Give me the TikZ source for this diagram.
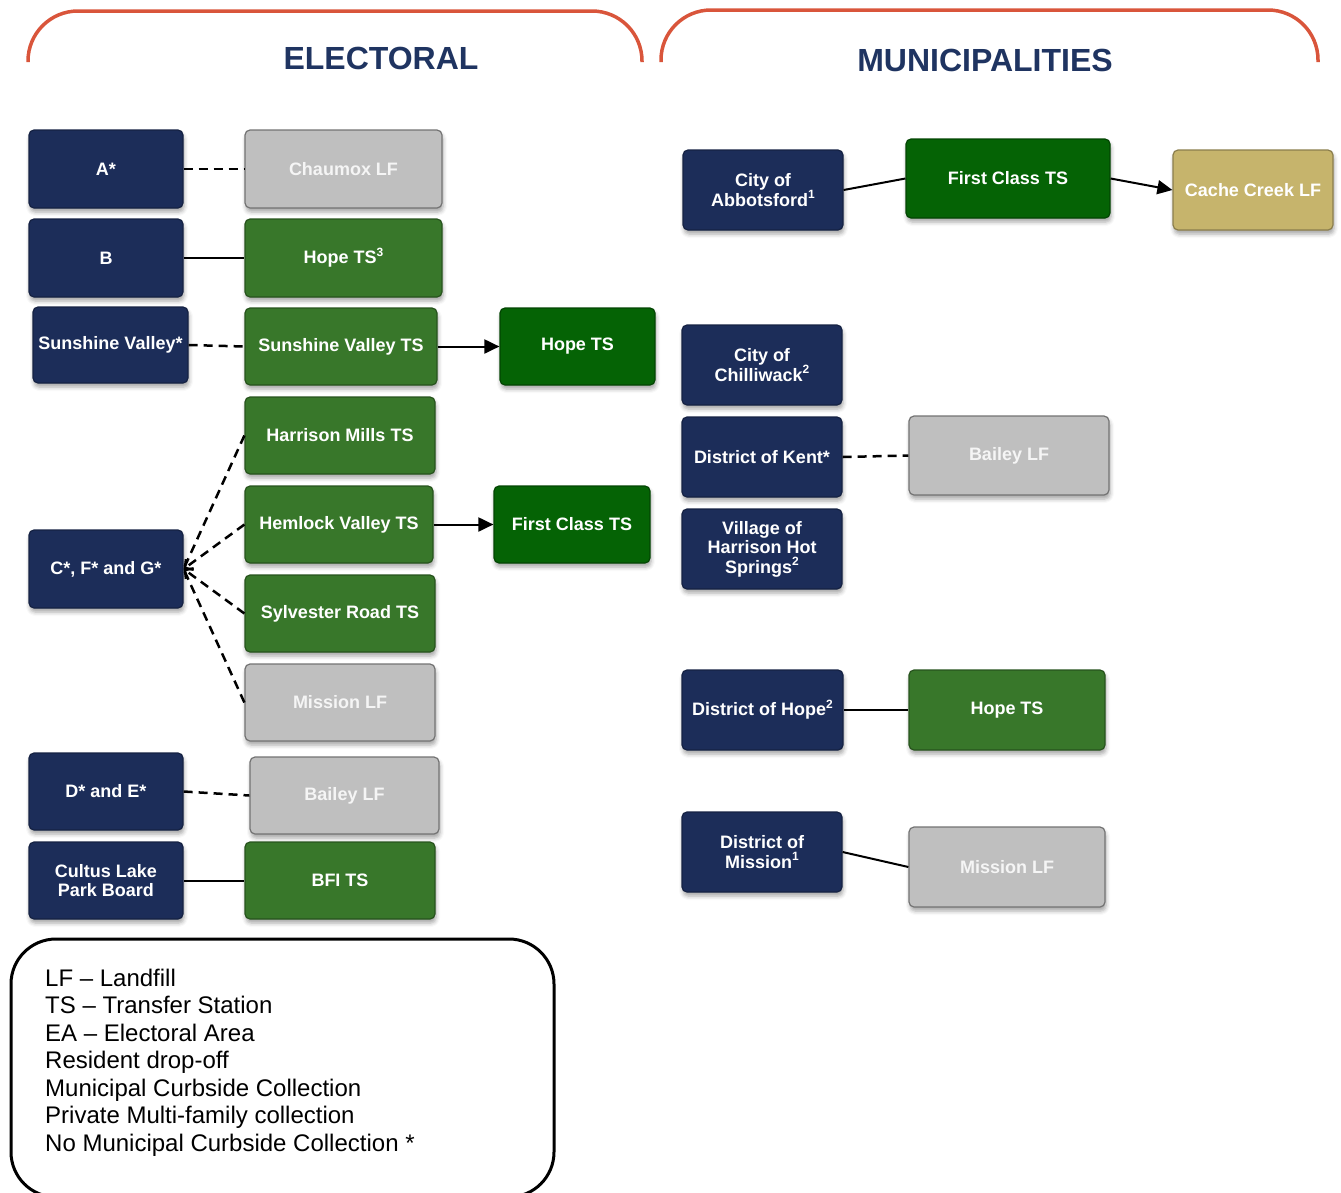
\documentclass[tikz,border=0pt]{standalone}
\usepackage{fontspec}
\usetikzlibrary{arrows.meta,shadows.blur}
\newfontfamily\arial{Liberation Sans}
\definecolor{navy}{HTML}{1C2D59}
\definecolor{titlenavy}{HTML}{1F3461}
\definecolor{grn}{HTML}{38772A}
\definecolor{dgrn}{HTML}{056305}
\definecolor{gry}{HTML}{BFBFBF}
\definecolor{tan}{HTML}{C6B46C}
\definecolor{arcred}{HTML}{D9553B}
\newcommand\sups[1]{\raisebox{0.40em}{\fontsize{12}{12}\selectfont #1}}
\tikzset{
  box/.style={rounded corners=5pt, line width=1.2pt, align=center, inner sep=2pt,
    text=white, font=\arial\bfseries\fontsize{18}{19.5}\selectfont,
    blur shadow={shadow xshift=1pt, shadow yshift=-4pt, shadow blur radius=4pt, shadow opacity=35}},
  navybox/.style={box, fill=navy, draw=navy!75!black},
  grnbox/.style={box, fill=grn, draw=grn!70!black},
  dgrnbox/.style={box, fill=dgrn, draw=dgrn!70!black},
  grybox/.style={box, fill=gry, draw=gry!60!black, text=white!96!black},
  tanbox/.style={box, fill=tan, draw=tan!70!black},
  sz/.style 2 args={minimum width=#1pt, minimum height=#2pt},
  link/.style={line width=2pt, black},
  dlink/.style={line width=2.5pt, black, dash pattern=on 9pt off 6pt},
  barb/.style={-{Straight Barb[length=6pt,width=13pt]}},
  arr/.style={link, -{Triangle[length=15pt,width=14pt]}},
  title/.style={font=\arial\bfseries\fontsize{32}{32}\selectfont, text=titlenavy, anchor=base},
  legline/.style={font=\arial\fontsize{24}{27}\selectfont, anchor=base west, inner sep=0pt},
  arc/.style={line width=3.5pt, arcred, rounded corners=50pt}
}
\begin{document}
\begin{tikzpicture}[x=1pt,y=-1pt]
\useasboundingbox (0,0) rectangle (1341,1192);
\clip (0,0) rectangle (1341,1192);
% arcs and titles
\draw[arc] (28,62) -- (28,11) -- (642,11) -- (642,62);
\draw[arc] (661,62) -- (661,10) -- (1318,10) -- (1318,62);
\node[title] (tel) at (381,69) {ELECTORAL};
\node[title] (tmu) at (985,71) {MUNICIPALITIES};

% electoral column 1
\node[navybox, sz={154}{78}] (a) at (106,169) {A*};
\node[navybox, sz={154}{78}] (b) at (106,258) {B};
\node[navybox, sz={155}{76}] (sv) at (110.5,345) {Sunshine Valley*};
\node[navybox, sz={154}{78}] (cfg) at (106,569) {C*, F* and G*};
\node[navybox, sz={154}{77}] (de) at (106,791.5) {D* and E*};
\node[navybox, sz={154}{77}] (cl) at (106,880.5) {Cultus Lake\\Park Board};
% electoral column 2
\node[grybox, sz={197}{78}] (chx) at (343.5,169) {Chaumox LF};
\node[grnbox, sz={197}{78}] (hope3) at (343.5,258) {Hope TS\sups{3}};
\node[grnbox, sz={192}{77}] (svts) at (341,346.5) {Sunshine Valley TS};
\node[grnbox, sz={190}{77}] (hm) at (340,435.5) {Harrison Mills TS};
\node[grnbox, sz={188}{77}] (hv) at (339,524.5) {Hemlock Valley TS};
\node[grnbox, sz={190}{77}] (sr) at (340,613.5) {Sylvester Road TS};
\node[grybox, sz={190}{77}] (mlf) at (340,702.5) {Mission LF};
\node[grybox, sz={189}{77}] (blf) at (344.5,795.5) {Bailey LF};
\node[grnbox, sz={190}{77}] (bfi) at (340,880.5) {BFI TS};
% electoral column 3
\node[dgrnbox, sz={155}{77}] (hopets) at (577.5,346.5) {Hope TS};
\node[dgrnbox, sz={156}{77}] (fc1) at (572,524.5) {First Class TS};

% municipalities
\node[navybox, sz={160}{80}] (abb) at (763,190) {City of\\Abbotsford\sups{1}};
\node[dgrnbox, sz={204}{79}] (fc2) at (1008,178.5) {First Class TS};
\node[tanbox, sz={160}{80}] (cc) at (1253,190) {Cache Creek LF};
\node[navybox, sz={160}{80}] (chil) at (762,365) {City of\\Chilliwack\sups{2}};
\node[navybox, sz={160}{80}] (kent) at (762,457) {District of Kent*};
\node[navybox, sz={160}{80}] (vil) at (762,549) {Village of\\Harrison Hot\\Springs\sups{2}};
\node[grybox, sz={200}{79}] (blf2) at (1009,455.5) {Bailey LF};
\node[navybox, sz={161}{80}] (dhope) at (762.5,710) {District of Hope\sups{2}};
\node[grnbox, sz={196}{80}] (hts) at (1007,710) {Hope TS};
\node[navybox, sz={160}{80}] (dmis) at (762,852) {District of\\Mission\sups{1}};
\node[grybox, sz={196}{80}] (mlf2) at (1007,867) {Mission LF};

% connectors electoral
\draw[dlink] (a) -- (chx);
\draw[link] (b) -- (hope3);
\draw[dlink] (sv.east) -- (svts.west);
\draw[arr] (svts) -- (hopets);
\draw[dlink] (hm.west) -- (cfg.east);
\draw[dlink, barb] (hv.west) -- (cfg.east);
\draw[dlink, barb] (sr.west) -- (cfg.east);
\draw[dlink] (mlf.west) -- (cfg.east);
\draw[arr] (hv) -- (fc1);
\draw[dlink] (de.east) -- (blf.west);
\draw[link] (cl) -- (bfi);
% connectors municipalities
\draw[link] (abb.east) -- (fc2.west);
\draw[arr] (fc2.east) -- (cc.west);
\draw[dlink] (kent.east) -- (blf2.west);
\draw[link] (dhope) -- (hts);
\draw[link] (dmis.east) -- (mlf2.west);

% legend
\draw[line width=3pt, rounded corners=45pt] (11,939) rectangle (554,1197);
\node[legline] (l1) at (45,986) {LF – Landfill};
\node[legline] (l2) at (45,1013.5) {TS – Transfer Station};
\node[legline] (l3) at (45,1041) {EA – Electoral Area};
\node[legline] (l4) at (45,1068.5) {Resident drop-off};
\node[legline] (l5) at (45,1096) {Municipal Curbside Collection};
\node[legline] (l6) at (45,1123.5) {Private Multi-family collection};
\node[legline] (l7) at (45,1151) {No Municipal Curbside Collection *};
\end{tikzpicture}
\end{document}
